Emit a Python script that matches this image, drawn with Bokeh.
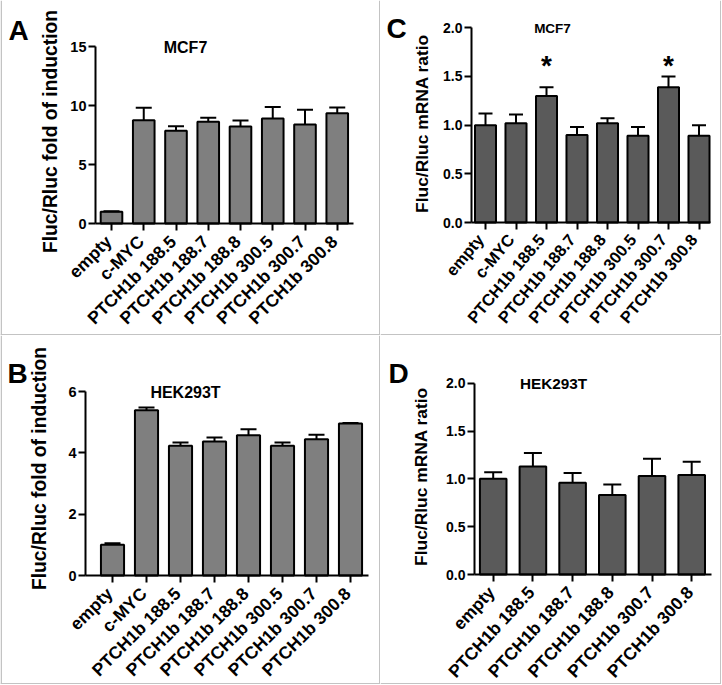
import math
from bokeh.plotting import figure
from bokeh.layouts import gridplot
from bokeh.models import (Range1d, FixedTicker, Label, Whisker, TeeHead, ColumnDataSource,
                          BoxAnnotation, LinearAxis)
from bokeh.core.properties import value
from bokeh.embed import file_html
from bokeh.resources import INLINE

# ---------------- data ----------------
categories_8 = ["empty", "c-MYC", "PTCH1b 188.5", "PTCH1b 188.7", "PTCH1b 188.8",
                "PTCH1b 300.5", "PTCH1b 300.7", "PTCH1b 300.8"]
categories_6 = ["empty", "PTCH1b 188.5", "PTCH1b 188.7", "PTCH1b 188.8",
                "PTCH1b 300.7", "PTCH1b 300.8"]

# A: MCF7 luciferase fold of induction
a_mean = [1.0, 8.75, 7.85, 8.63, 8.23, 8.9, 8.4, 9.35]
a_err = [0.03, 1.05, 0.4, 0.33, 0.5, 0.98, 1.25, 0.47]
# B: HEK293T luciferase fold of induction
b_mean = [1.0, 5.39, 4.23, 4.37, 4.57, 4.23, 4.44, 4.96]
b_err = [0.05, 0.09, 0.11, 0.13, 0.2, 0.11, 0.15, 0.01]
# C: MCF7 mRNA ratio
c_mean = [1.0, 1.02, 1.3, 0.9, 1.02, 0.89, 1.39, 0.89]
c_err = [0.12, 0.09, 0.09, 0.08, 0.05, 0.09, 0.11, 0.11]
c_sig = ["", "", "*", "", "", "", "*", ""]
# D: HEK293T mRNA ratio
d_mean = [1.0, 1.13, 0.96, 0.83, 1.03, 1.04]
d_err = [0.07, 0.14, 0.1, 0.11, 0.18, 0.14]

ticks_a = [0, 5, 10, 15]
tick_labels_a = ["0", "5", "10", "15"]
ticks_b = [0, 2, 4, 6]
tick_labels_b = ["0", "2", "4", "6"]
ticks_cd = [0.0, 0.5, 1.0, 1.5, 2.0]
tick_labels_cd = ["0.0", "0.5", "1.0", "1.5", "2.0"]

label_fold = "Fluc/Rluc fold of induction"
label_ratio = "Fluc/Rluc mRNA ratio"

# ---------------- style ----------------
FONT = "Liberation Sans"
BORDER = "#c3c3c3"


def fs(v):
    return f"{v:.1f}px"


def make_panel(cats, means, errs, yticks, ytick_labels, ylabel, sig, spec):
    W, H = spec["w"], spec["h"]
    step = spec["step"]                      # px per category
    ppu = (spec["zero"] - spec["top"]) / yticks[-1]   # px per y unit
    x0 = -spec["c0"] / step
    x1 = x0 + W / step
    y1 = spec["zero"] / ppu
    y0 = -(H - spec["zero"]) / ppu
    p = figure(width=W, height=H, output_backend="svg", toolbar_location=None,
               x_range=Range1d(x0, x1), y_range=Range1d(y0, y1),
               x_axis_type=None, y_axis_type=None,
               min_border=0, min_border_left=0, min_border_right=0,
               min_border_top=0, min_border_bottom=0,
               background_fill_color="white", border_fill_color="white")
    p.outline_line_color = None
    p.grid.visible = False

    xs = list(range(len(cats)))
    uppers = [m + e for m, e in zip(means, errs)]
    src = ColumnDataSource(dict(x=xs, top=means, upper=uppers, base=[0] * len(xs), name=cats))
    p.vbar(x="x", top="top", bottom=0, width=spec["bw"], source=src,
           fill_color=spec["color"], line_color="black", line_width=2)
    p.add_layout(Whisker(source=src, base="x", lower="top", upper="upper", dimension="height",
                         line_color="black", line_width=2, lower_head=None,
                         upper_head=TeeHead(size=spec["cap"], line_color="black", line_width=2),
                         level="glyph"))

    if sig:
        idx = [i for i, s in enumerate(sig) if s]
        ymax = max(uppers)
        p.text(x=[xs[i] for i in idx], y=[ymax] * len(idx), text=[sig[i] for i in idx],
               text_font=value(FONT), text_font_style="bold", text_font_size=fs(28),
               text_align="center", text_baseline="alphabetic", text_color="black",
               y_offset=-11)

    xloc = x0 + spec["yaxis_px"] / step
    xend = x0 + spec["xend_px"] / step

    ya = LinearAxis(fixed_location=xloc, bounds=(yticks[0], yticks[-1]))
    xa = LinearAxis(fixed_location=0, bounds=(xloc, xend))
    for ax in (xa, ya):
        ax.axis_line_width = 2
        ax.axis_line_color = "black"
        ax.major_tick_line_width = 2
        ax.major_tick_line_color = "black"
        ax.major_tick_in = 0
        ax.major_tick_out = 7
        ax.minor_tick_line_color = None
        ax.major_label_text_font = FONT
        ax.major_label_text_font_style = "bold"
        ax.major_label_text_color = "black"
        ax.major_label_standoff = 2

    # category tick marks from the axis; their labels drawn as rotated text below
    xa.ticker = FixedTicker(ticks=xs)
    xa.major_label_overrides = {i: "" for i in xs}

    ya.ticker = FixedTicker(ticks=yticks)
    ya.major_label_overrides = {t: l for t, l in zip(yticks, ytick_labels)}
    ya.major_label_text_font_size = fs(spec["yfs"])
    p.add_layout(ya, "left")
    p.add_layout(xa, "below")

    p.text(x="x", y="base", text="name", source=src, angle=math.radians(spec["lab_angle"]),
           text_align="right", text_baseline="top", x_offset=spec["lab_off"][0],
           y_offset=spec["lab_off"][1], text_font=value(FONT), text_font_style="bold",
           text_font_size=fs(spec["xfs"]), text_color="black")

    def add_text(text, xr, yr, size, align, baseline, angle=0.0):
        p.add_layout(Label(x=xr, y=H - yr, x_units="screen", y_units="screen", text=text,
                           text_font=FONT, text_font_style="bold", text_font_size=fs(size),
                           text_align=align, text_baseline=baseline, text_color="black",
                           angle=angle))

    lt, lx, ly = spec["letter"]
    add_text(lt, lx, ly, 28, "left", "alphabetic")
    tt, tx, ty, tsz = spec["title"]
    add_text(tt, tx, ty, tsz, "center", "middle")
    yx, yy = spec["ytitle_pos"]
    add_text(ylabel, yx, yy, spec["ylfs"], "center", "middle", math.pi / 2)

    bw = 1.5
    for side in spec["borders"]:
        if side == "left":
            box = (0, bw, 0, H)
        elif side == "right":
            box = (W - bw, W, 0, H)
        else:
            box = (0, W, H - bw, H)
        p.add_layout(BoxAnnotation(left=box[0], right=box[1], top=box[2], bottom=box[3],
                                   left_units="canvas", right_units="canvas",
                                   top_units="canvas", bottom_units="canvas",
                                   fill_color=BORDER, fill_alpha=1, line_color=None,
                                   level="overlay"))
    return p


spec_a = dict(w=380, h=335, yaxis_px=95, xend_px=353, zero=223, top=46, c0=111, step=32.25, bw=0.67,
              cap=16, color="#7f7f7f", xfs=17.5, yfs=14.5, ylfs=19.3, ytitle_pos=(50, 131),
              lab_off=(-10, 8), lab_angle=45,
              letter=("A", 8, 30), title=("MCF7", 185, 47, 16), borders=["left", "right", "bottom"])
spec_b = dict(w=380, h=349, yaxis_px=85, xend_px=368, zero=240, top=56, c0=112, step=34, bw=0.68,
              cap=16, color="#7f7f7f", xfs=17.5, yfs=14.5, ylfs=19.3, ytitle_pos=(39, 133),
              lab_off=(-10, 8), lab_angle=45,
              letter=("B", 7, 38), title=("HEK293T", 185, 57, 16), borders=["left", "right", "bottom"])
spec_c = dict(w=341, h=335, yaxis_px=91, xend_px=330, zero=222, top=27.3, c0=105, step=30.5, bw=0.69,
              cap=14, color="#5a5a5a", xfs=16.5, yfs=14, ylfs=17.4, ytitle_pos=(41, 123),
              lab_off=(-12, 8), lab_angle=50,
              letter=("C", 6, 28), title=("MCF7", 172, 28, 13.5), borders=["right", "bottom"])
spec_d = dict(w=341, h=349, yaxis_px=94, xend_px=331, zero=239, top=47.7, c0=112.7, step=39.7, bw=0.67,
              cap=18, color="#5a5a5a", xfs=17.5, yfs=14, ylfs=17.4, ytitle_pos=(40, 141),
              lab_off=(-9, 8), lab_angle=47,
              letter=("D", 8, 38), title=("HEK293T", 173, 48, 15.3), borders=["right", "bottom"])

pA = make_panel(categories_8, a_mean, a_err, ticks_a, tick_labels_a, label_fold, None, spec_a)
pB = make_panel(categories_8, b_mean, b_err, ticks_b, tick_labels_b, label_fold, None, spec_b)
pC = make_panel(categories_8, c_mean, c_err, ticks_cd, tick_labels_cd, label_ratio, c_sig, spec_c)
pD = make_panel(categories_6, d_mean, d_err, ticks_cd, tick_labels_cd, label_ratio, None, spec_d)

grid = gridplot([[pA, pC], [pB, pD]], toolbar_location=None)
open("out.html", "w").write(file_html(grid, INLINE))
